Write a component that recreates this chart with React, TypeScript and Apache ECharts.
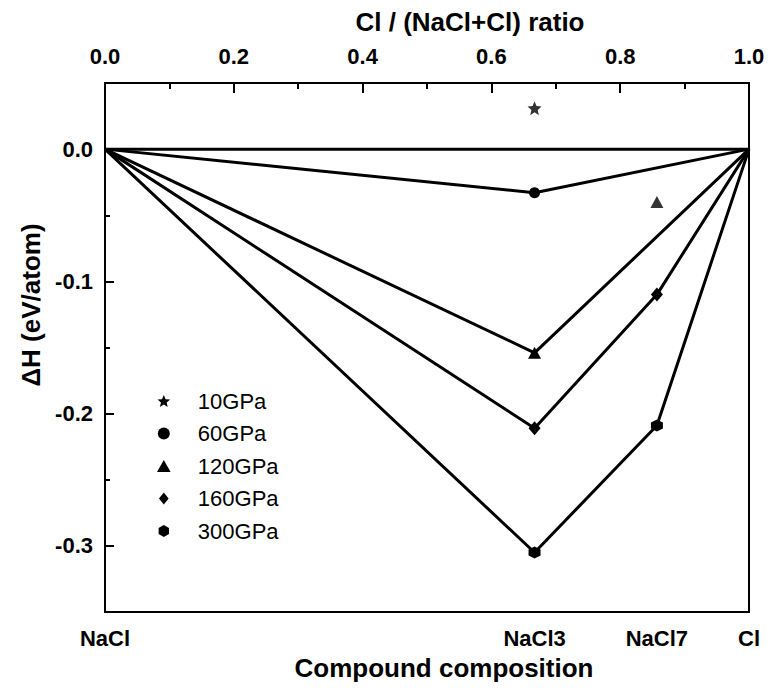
import React, { useEffect, useRef } from "react";
import * as echarts from "echarts";

// ---------- data ----------
const compositions = ["NaCl", "NaCl3", "NaCl7", "Cl"];
const ratio = [0.0, 0.667, 0.857, 1.0];
const yMajor = [0.0, -0.1, -0.2, -0.3];
const yMinor = [-0.05, -0.15, -0.25];

// convex-hull points (null = not on hull) and off-hull points
const hull10 = [0, null, null, 0];
const off10 = [null, 0.031, null, null];
const hull60 = [0, -0.033, null, 0];
const hull120 = [0, -0.154, null, 0];
const off120 = [null, null, -0.04, null];
const hull160 = [0, -0.211, -0.11, 0];
const hull300 = [0, -0.305, -0.209, 0];

const seriesNames = ["10GPa", "60GPa", "120GPa", "160GPa", "300GPa"];

// ---------- shapes ----------
const starPath =
  "path://" +
  Array.from({ length: 10 }, (_, i) => {
    const a = -Math.PI / 2 + (i * Math.PI) / 5;
    const r = i % 2 ? 0.45 : 1;
    return (i ? "L" : "M") + (r * Math.cos(a)).toFixed(3) + "," + (r * Math.sin(a)).toFixed(3);
  }).join("") +
  "Z";
const circlePath = "path://M0,-1A1,1,0,1,1,0,1A1,1,0,1,1,0,-1Z";
const trianglePath = "path://M0,-1L1.05,0.85L-1.05,0.85Z";
const diamondPath = "path://M0,-1L0.8,0L0,1L-0.8,0Z";
const hexPath = "path://M0,-1L0.866,-0.5L0.866,0.5L0,1L-0.866,0.5L-0.866,-0.5Z";

const FONT = "'Liberation Sans', Arial, sans-serif";
const TICK = "#000";

function toData(vals: (number | null)[], sym: string, size: number | number[]) {
  const out: any[] = [];
  vals.forEach((v, i) => {
    if (v === null) return;
    const edge = i === 0 || i === vals.length - 1;
    out.push({ value: [ratio[i], v], symbol: edge ? "none" : sym, symbolSize: size });
  });
  return out;
}

function lineSeries(name: string, vals: (number | null)[], sym: string, size: number | number[]) {
  return {
    name,
    type: "line",
    xAxisIndex: 0,
    yAxisIndex: 0,
    data: toData(vals, sym, size),
    showAllSymbol: true,
    lineStyle: { color: "#000", width: 3 },
    itemStyle: { color: "#000" },
    z: 3,
  };
}

function scatterSeries(name: string, vals: (number | null)[], sym: string, size: number | number[]) {
  const out: any[] = [];
  vals.forEach((v, i) => {
    if (v !== null) out.push([ratio[i], v]);
  });
  return {
    name,
    type: "scatter",
    xAxisIndex: 0,
    yAxisIndex: 0,
    data: out,
    symbol: sym,
    symbolSize: size,
    itemStyle: { color: "#000" },
    z: 4,
  };
}

export default function App() {
  const ref = useRef<HTMLDivElement>(null);

  useEffect(() => {
    if (!ref.current) return;
    const chart = echarts.init(ref.current, null, { renderer: "svg" });
    const axisLine = { show: true, onZero: false, lineStyle: { color: "#000", width: 2 } };
    const labelStyle = { fontSize: 22, fontWeight: "bold" as const, color: "#000", fontFamily: FONT };

    chart.setOption({
      animation: false,
      backgroundColor: "#fff",
      grid: {
        left: 105,
        right: 19,
        top: 83,
        bottom: 82,
        show: true,
        borderColor: "#000",
        borderWidth: 2,
        backgroundColor: "transparent",
      },
      xAxis: [
        {
          type: "value",
          position: "top",
          min: 0,
          max: 1,
          interval: 0.2,
          axisLine,
          axisTick: { show: true, inside: true, length: 10, lineStyle: { color: TICK, width: 2 } },
          minorTick: { show: true, splitNumber: 2, length: 6, lineStyle: { color: TICK, width: 2 } },
          splitLine: { show: false },
          minorSplitLine: { show: false },
          axisLabel: {
            ...labelStyle,
            margin: 16,
            formatter: (v: number) => v.toFixed(1),
          },
          z: 10,
        },
        {
          type: "value",
          position: "bottom",
          min: 0,
          max: 1,
          axisLine,
          axisTick: { show: false },
          splitLine: { show: false },
          axisLabel: {
            ...labelStyle,
            margin: 15,
            customValues: ratio,
            showMinLabel: true,
            showMaxLabel: true,
            formatter: (v: number) => {
              let best = 0;
              ratio.forEach((r, i) => {
                if (Math.abs(r - v) < Math.abs(ratio[best] - v)) best = i;
              });
              return compositions[best];
            },
          },
        },
      ],
      yAxis: [
        {
          type: "value",
          min: -0.35,
          max: 0.05,
          axisLine,
          axisTick: {
            show: true,
            inside: true,
            length: 9,
            customValues: yMajor,
            lineStyle: { color: TICK, width: 2 },
          },
          splitLine: { show: false },
          axisLabel: {
            ...labelStyle,
            margin: 12,
            customValues: yMajor,
            formatter: (v: number) => v.toFixed(1),
          },
          z: 10,
        },
        {
          type: "value",
          position: "left",
          min: -0.35,
          max: 0.05,
          axisLine: { show: false, onZero: false },
          axisTick: {
            show: true,
            inside: true,
            length: 5,
            customValues: yMinor,
            lineStyle: { color: TICK, width: 2 },
          },
          axisLabel: { show: false },
          splitLine: { show: false },
          z: 10,
        },
      ],
      legend: {
        orient: "vertical",
        left: 152,
        top: 385,
        itemWidth: 58,
        itemHeight: 12,
        itemGap: 10.5,
        textStyle: { fontSize: 22, color: "#000", fontFamily: FONT, lineHeight: 22 },
        data: [
          { name: seriesNames[0], icon: starPath },
          { name: seriesNames[1], icon: circlePath },
          { name: seriesNames[2], icon: trianglePath },
          { name: seriesNames[3], icon: diamondPath },
          { name: seriesNames[4], icon: hexPath },
        ],
      },
      graphic: [
        {
          type: "text",
          x: 470,
          y: 22,
          style: {
            text: "Cl / (NaCl+Cl) ratio",
            font: `bold 26px ${FONT}`,
            fill: "#000",
            align: "center",
            verticalAlign: "middle",
          },
        },
        {
          type: "text",
          x: 444,
          y: 668,
          style: {
            text: "Compound composition",
            font: `bold 26px ${FONT}`,
            fill: "#000",
            align: "center",
            verticalAlign: "middle",
          },
        },
        {
          type: "text",
          x: 31,
          y: 305,
          rotation: Math.PI / 2,
          style: {
            text: "ΔH (eV/atom)",
            font: `bold 26px ${FONT}`,
            fill: "#000",
            align: "center",
            verticalAlign: "middle",
          },
        },
      ],
      series: [
        lineSeries(seriesNames[0], hull10, "none", 0),
        scatterSeries(seriesNames[0], off10, starPath, 14),
        lineSeries(seriesNames[1], hull60, "circle", 11),
        lineSeries(seriesNames[2], hull120, "triangle", [13, 12]),
        scatterSeries(seriesNames[2], off120, "triangle", [13, 12]),
        lineSeries(seriesNames[3], hull160, "diamond", [12, 14]),
        lineSeries(seriesNames[4], hull300, hexPath, 12),
      ],
    });
    return () => chart.dispose();
  }, []);

  return (
    <div
      ref={ref}
      style={{ position: "fixed", left: 0, top: 0, width: 768, height: 694, background: "#fff" }}
    />
  );
}
